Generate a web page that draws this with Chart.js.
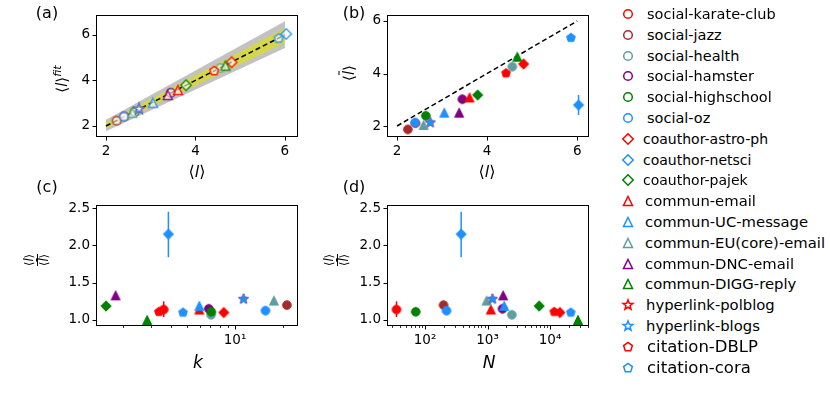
<!DOCTYPE html>
<html>
<head>
<meta charset="utf-8">
<title>path length panels</title>
<script src="https://cdn.jsdelivr.net/npm/chart.js@4.4.1/dist/chart.umd.min.js"></script>
<style>
  html, body { margin: 0; padding: 0; background: #fff; }
  #fig { position: relative; width: 830px; height: 396px; overflow: hidden; font-family: 'DejaVu Sans', sans-serif; color: #000; }
  #fig canvas.panel { position: absolute; }
  .lab { position: absolute; transform: translate(-50%, -50%); white-space: nowrap; line-height: 1; }
  .rot { transform: translate(-50%, -50%) rotate(-90deg); }
  .ov { text-decoration: overline; text-decoration-thickness: 1px; }
  .frac { display: inline-flex; flex-direction: column; align-items: center; font-size: 11.5px; line-height: 1; }
  .frac .bar { align-self: stretch; height: 1px; background: #000; margin: 1px 0; }
  .leg { position: absolute; left: 620px; height: 20px; width: 210px; line-height: 20px; white-space: nowrap; }
  .leg canvas { position: absolute; left: 0; top: 2px; }
  .leg span { position: absolute; top: 0; }
</style>
</head>
<body>
<div id="fig">
  <canvas class="panel" id="panelA" width="270" height="172" style="left:37px;top:4px"></canvas>
  <canvas class="panel" id="panelB" width="270" height="172" style="left:328px;top:4px"></canvas>
  <canvas class="panel" id="panelC" width="270" height="171" style="left:37px;top:194px"></canvas>
  <canvas class="panel" id="panelD" width="270" height="171" style="left:328px;top:194px"></canvas>

  <div class="lab" style="left:47px;top:13px;font-size:16px">(a)</div>
  <div class="lab" style="left:354px;top:13px;font-size:16px">(b)</div>
  <div class="lab" style="left:47px;top:187px;font-size:16px">(c)</div>
  <div class="lab" style="left:354px;top:187px;font-size:16px">(d)</div>

  <div class="lab" style="left:197px;top:172px;font-size:16px">⟨<i>l</i>⟩</div>
  <div class="lab" style="left:487px;top:172px;font-size:16px">⟨<i>l</i>⟩</div>
  <div class="lab" style="left:198px;top:362px;font-size:17px"><i>k</i></div>
  <div class="lab" style="left:489px;top:362px;font-size:17px"><i>N</i></div>

  <div class="lab rot" style="left:61px;top:79px;font-size:15px">⟨<i>l</i>⟩<sup style="font-size:11px"><i>fit</i></sup></div>
  <div class="lab rot" style="left:349px;top:73px;font-size:15px">⟨<i class="ov">l</i>⟩</div>
  <div class="lab rot" style="left:35px;top:260px"><span class="frac"><span>⟨<i>l</i>⟩</span><span class="bar"></span><span>⟨<i class="ov">l</i>⟩</span></span></div>
  <div class="lab rot" style="left:335px;top:260px"><span class="frac"><span>⟨<i>l</i>⟩</span><span class="bar"></span><span>⟨<i class="ov">l</i>⟩</span></span></div>
</div>

<script>
// redes y sus valores
const names = ['social-karate-club', 'social-jazz', 'social-health', 'social-hamster', 'social-highschool', 'social-oz',
  'coauthor-astro-ph', 'coauthor-netsci', 'coauthor-pajek',
  'commun-email', 'commun-UC-message', 'commun-EU(core)-email', 'commun-DNC-email', 'commun-DIGG-reply',
  'hyperlink-polblog', 'hyperlink-blogs', 'citation-DBLP', 'citation-cora'];
const colors = ['#ff0000', '#a52a2a', '#5f9ea0', '#800080', '#008000', '#1e90ff',
  '#ff0000', '#1e90ff', '#008000',
  '#ff0000', '#1e90ff', '#5f9ea0', '#800080', '#008000',
  '#ff0000', '#1e90ff', '#ff0000', '#1e90ff'];
const shapes = ['circle', 'circle', 'circle', 'circle', 'circle', 'circle',
  'diamond', 'diamond', 'diamond',
  'triangle', 'triangle', 'triangle', 'triangle', 'triangle',
  'star', 'star', 'pentagon', 'pentagon'];

const lMean = [2.41, 2.24, 4.56, 3.45, 2.64, 2.40, 4.81, 6.03, 3.79, 3.61, 3.05, 2.59, 3.38, 4.67, 2.74, 2.74, 4.42, 5.86];
const lFit  = [2.42, 2.23, 4.54, 3.46, 2.62, 2.41, 4.80, 6.04, 3.79, 3.58, 3.02, 2.58, 3.36, 4.65, 2.75, 2.75, 4.42, 5.85];
const lBar  = [2.11, 1.87, 4.26, 3.02, 2.39, 2.13, 4.36, 2.80, 3.18, 3.09, 2.51, 2.04, 2.51, 4.64, 2.13, 2.13, 4.01, 5.36];
const kMean = [3.58, 21.1, 7.08, 6.85, 7.1, 15.5, 8.5, 3.83, 1.56, 5.98, 5.98, 17.5, 1.79, 2.82, 11.3, 11.3, 3.34, 4.73];
const nodes = [35, 198, 2450, 1740, 71, 221, 14400, 379, 6700, 1130, 1850, 964, 1780, 28000, 1200, 1200, 11700, 21500];
const ratio = [1.14, 1.20, 1.07, 1.15, 1.11, 1.125, 1.10, 2.15, 1.187, 1.14, 1.19, 1.26, 1.33, 1.0, 1.28, 1.28, 1.11, 1.10];

// barras de error: [red, bajo, alto]
const lBarErr = [['coauthor-netsci', 2.42, 3.18]];
const ratioErr = [['social-karate-club', 1.04, 1.25], ['coauthor-netsci', 1.84, 2.45]];

// banda del panel (a)
const bandX = [2, 6];
const grayLow = [1.77, 5.42];
const grayHigh = [2.27, 6.6];
const yellowLow = [1.9, 5.65];
const yellowHigh = [2.14, 6.3];
const diagonal = [2, 6];

// ticks
const linTicks = [2, 4, 6];
const ratioTicks = [1.0, 1.5, 2.0, 2.5];
const kTicks = [2, 3, 4, 5, 6, 7, 8, 9, 10, 20];
const nTicks = [30, 40, 50, 60, 70, 80, 90, 100, 200, 300, 400, 500, 600, 700, 800, 900,
  1000, 2000, 3000, 4000, 5000, 6000, 7000, 8000, 9000, 10000, 20000, 30000, 40000];
const powerLabels = { 10: '10¹', 100: '10²', 1000: '10³', 10000: '10⁴' };

Chart.defaults.font.family = "'DejaVu Sans', sans-serif";
Chart.defaults.color = '#000';

// marcadores estilo matplotlib dibujados en un canvas pequeño
function tracePath(g, shape) {
  if (shape === 'circle') {
    g.arc(0, 0, 4.3, 0, Math.PI * 2);
  } else if (shape === 'diamond') {
    const d = 5.2;
    g.moveTo(0, -d); g.lineTo(d, 0); g.lineTo(0, d); g.lineTo(-d, 0); g.closePath();
  } else if (shape === 'triangle') {
    const r = 4.5;
    g.moveTo(0, -r); g.lineTo(r, r); g.lineTo(-r, r); g.closePath();
  } else if (shape === 'pentagon') {
    const r = 4.6;
    for (let j = 0; j < 5; j++) {
      const a = -Math.PI / 2 + j * 2 * Math.PI / 5;
      if (j === 0) g.moveTo(r * Math.cos(a), r * Math.sin(a)); else g.lineTo(r * Math.cos(a), r * Math.sin(a));
    }
    g.closePath();
  } else if (shape === 'star') {
    const R = 5.2, ri = R * 0.42;
    for (let j = 0; j < 10; j++) {
      const a = -Math.PI / 2 + j * Math.PI / 5;
      const rr = j % 2 ? ri : R;
      if (j === 0) g.moveTo(rr * Math.cos(a), rr * Math.sin(a)); else g.lineTo(rr * Math.cos(a), rr * Math.sin(a));
    }
    g.closePath();
  }
}

function markerCanvas(shape, color, style) {
  const c = document.createElement('canvas');
  c.width = 16; c.height = 16;
  const g = c.getContext('2d');
  g.translate(8, 8);
  g.beginPath();
  tracePath(g, shape);
  if (style === 'filled') {
    g.fillStyle = color; g.fill();
    g.lineWidth = 1; g.strokeStyle = color; g.stroke();
  } else {
    g.fillStyle = style === 'ghost' ? 'rgba(255,255,255,0.6)' : 'rgba(255,255,255,0)';
    g.fill();
    g.globalAlpha = style === 'ghost' ? 0.85 : 1;
    g.lineWidth = 1.5; g.strokeStyle = color; g.stroke();
  }
  return c;
}

function markerSets(xVals, yVals, style) {
  return names.map((n, i) => ({
    type: 'scatter',
    label: n,
    data: [{ x: xVals[i], y: yVals[i] }],
    pointStyle: markerCanvas(shapes[i], colors[i], style),
    pointRadius: 5,
    order: names.length - i   // los últimos quedan arriba, como en matplotlib
  }));
}

function lineSet(xs, ys, extra) {
  return Object.assign({
    type: 'line',
    data: xs.map((x, i) => ({ x: x, y: ys[i] })),
    pointRadius: 0,
    borderWidth: 0,
    borderColor: 'rgba(0,0,0,0)',
    tension: 0,
    fill: false
  }, extra);
}

// marco y ticks hacia afuera
function makeFrame(isMajorX) {
  return {
    id: 'frame',
    afterDraw(chart) {
      const { ctx, chartArea: a, scales } = chart;
      const l = Math.round(a.left) - 0.5, r = Math.round(a.right) + 0.5;
      const t = Math.round(a.top) - 0.5, b = Math.round(a.bottom) + 0.5;
      ctx.save();
      ctx.strokeStyle = '#000';
      ctx.lineWidth = 1;
      ctx.strokeRect(l, t, r - l, b - t);
      const major = new Path2D(), minor = new Path2D();
      scales.x.ticks.forEach(tk => {
        const p = Math.round(scales.x.getPixelForValue(tk.value)) + 0.5;
        if (isMajorX(tk.value)) { major.moveTo(p, b); major.lineTo(p, b + 4); }
        else { minor.moveTo(p, b); minor.lineTo(p, b + 2.5); }
      });
      scales.y.ticks.forEach(tk => {
        const p = Math.round(scales.y.getPixelForValue(tk.value)) + 0.5;
        major.moveTo(l, p); major.lineTo(l - 4, p);
      });
      ctx.stroke(major);
      ctx.lineWidth = 0.8;
      ctx.stroke(minor);
      ctx.restore();
    }
  };
}

function makeErrorBars(items) {
  return {
    id: 'errorBars',
    beforeDatasetsDraw(chart) {
      const { ctx, scales } = chart;
      ctx.save();
      ctx.lineWidth = 1.5;
      items.forEach(it => {
        const px = scales.x.getPixelForValue(it.x);
        ctx.strokeStyle = it.color;
        ctx.beginPath();
        ctx.moveTo(px, scales.y.getPixelForValue(it.lo));
        ctx.lineTo(px, scales.y.getPixelForValue(it.hi));
        ctx.stroke();
      });
      ctx.restore();
    }
  };
}

function errItems(list, xVals) {
  return list.map(([n, lo, hi]) => {
    const i = names.indexOf(n);
    return { x: xVals[i], lo: lo, hi: hi, color: colors[i] };
  });
}

function axis(type, min, max, ticks, labelFn, fitSize, horizontal) {
  return {
    type: type, min: min, max: max,
    afterBuildTicks: s => { s.ticks = ticks.map(v => ({ value: v })); },
    afterFit: s => { if (horizontal) s.height = fitSize; else s.width = fitSize; },
    grid: { display: true, drawOnChartArea: false, drawTicks: true, tickLength: 4, color: 'rgba(0,0,0,0)' },
    border: { display: false },
    ticks: { autoSkip: false, maxRotation: 0, padding: 3, color: '#000', font: { size: 13.5 }, callback: labelFn }
  };
}

function options(xAxis, yAxis) {
  return {
    responsive: false,
    animation: false,
    events: [],
    layout: { padding: { top: 12, right: 10, left: 0, bottom: 0 } },
    plugins: { legend: { display: false }, tooltip: { enabled: false }, filler: { drawTime: 'beforeDatasetsDraw' } },
    scales: { x: xAxis, y: yAxis }
  };
}

const plain = v => String(v);
const oneDec = v => v.toFixed(1);
const power = v => powerLabels[v] || '';
const allMajor = () => true;
const decade = v => powerLabels[v] !== undefined;

// (a) <l>fit vs <l>
new Chart(document.getElementById('panelA'), {
  type: 'scatter',
  data: {
    datasets: [
      lineSet(bandX, grayHigh, { fill: '+1', backgroundColor: '#c2c2c2', order: 100 }),
      lineSet(bandX, grayLow, { order: 100 }),
      lineSet(bandX, yellowHigh, { fill: '+1', backgroundColor: '#d6d64a', order: 99 }),
      lineSet(bandX, yellowLow, { order: 99 }),
      lineSet(diagonal, diagonal, { borderColor: '#000', borderWidth: 1.5, borderDash: [5, 3], order: 50 })
    ].concat(markerSets(lMean, lFit, 'ghost'))
  },
  options: options(axis('linear', 1.8, 6.27, linTicks, plain, 40, true), axis('linear', 1.56, 6.83, linTicks, plain, 60, false)),
  plugins: [makeFrame(allMajor)]
});

// (b) <l barra> vs <l>
new Chart(document.getElementById('panelB'), {
  type: 'scatter',
  data: {
    datasets: [
      lineSet(diagonal, diagonal, { borderColor: '#000', borderWidth: 1.5, borderDash: [5, 3], order: 50 })
    ].concat(markerSets(lMean, lBar, 'filled'))
  },
  options: options(axis('linear', 1.8, 6.24, linTicks, plain, 40, true), axis('linear', 1.62, 6.19, linTicks, plain, 60, false)),
  plugins: [makeFrame(allMajor), makeErrorBars(errItems(lBarErr, lMean))]
});

// (c) cociente vs k
new Chart(document.getElementById('panelC'), {
  type: 'scatter',
  data: { datasets: markerSets(kMean, ratio, 'filled') },
  options: options(axis('logarithmic', 1.37, 24.4, kTicks, power, 40, true), axis('linear', 0.933, 2.527, ratioTicks, oneDec, 60, false)),
  plugins: [makeFrame(decade), makeErrorBars(errItems(ratioErr, kMean))]
});

// (d) cociente vs N
new Chart(document.getElementById('panelD'), {
  type: 'scatter',
  data: { datasets: markerSets(nodes, ratio, 'filled') },
  options: options(axis('logarithmic', 25.6, 40500, nTicks, power, 40, true), axis('linear', 0.933, 2.527, ratioTicks, oneDec, 60, false)),
  plugins: [makeFrame(decade), makeErrorBars(errItems(ratioErr, nodes))]
});

// leyenda
const legendFont = { social: 14.5, coauthor: 14, commun: 14.8, hyperlink: 14.8, citation: 16.5 };
const legendTextX = { circle: 27, diamond: 23, triangle: 25, star: 26, pentagon: 27 };
const fig = document.getElementById('fig');
names.forEach((n, i) => {
  const row = document.createElement('div');
  row.className = 'leg';
  row.style.top = (14 + i * 20.8 - 10) + 'px';
  row.appendChild(markerCanvas(shapes[i], colors[i], 'open'));
  const txt = document.createElement('span');
  txt.textContent = n;
  txt.style.left = legendTextX[shapes[i]] + 'px';
  txt.style.fontSize = legendFont[n.split('-')[0]] + 'px';
  row.appendChild(txt);
  fig.appendChild(row);
});
</script>
</body>
</html>
